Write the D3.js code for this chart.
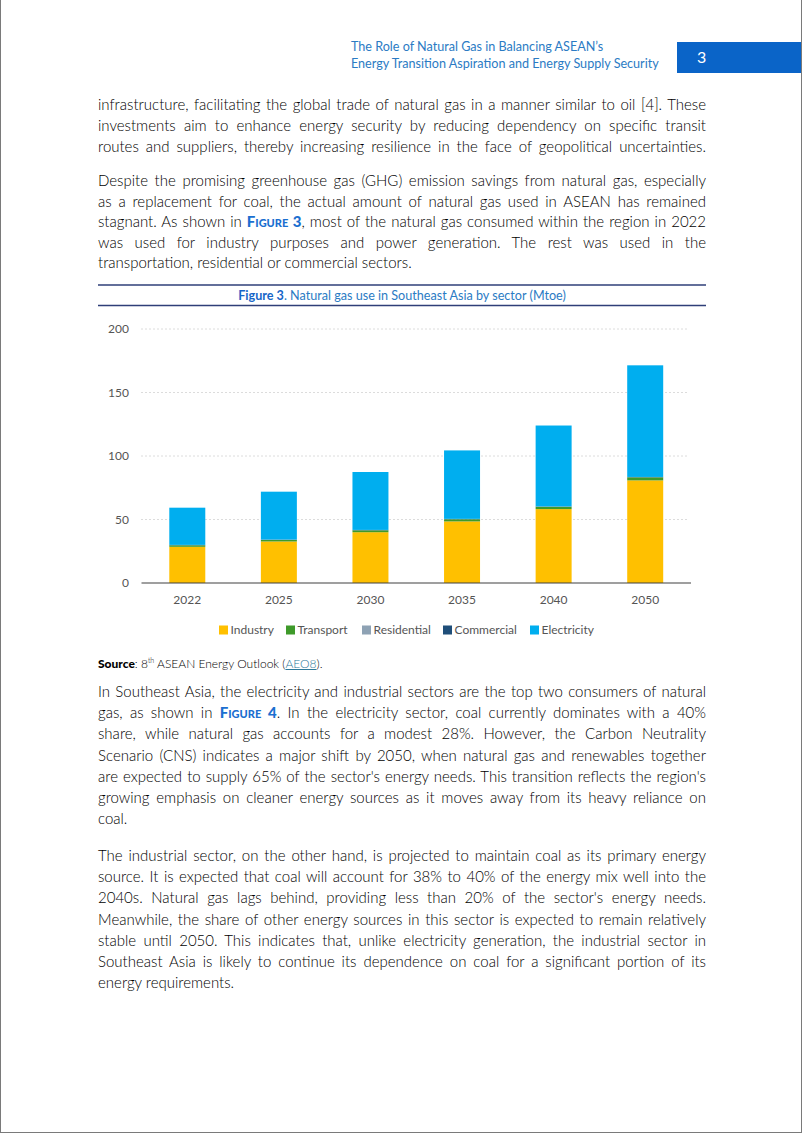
<!DOCTYPE html>
<html><head><meta charset="utf-8">
<script src="https://cdn.jsdelivr.net/npm/d3@7"></script>
<style>
html,body{margin:0;padding:0;background:#fff;}
#page{position:relative;width:802px;height:1133px;overflow:hidden;box-sizing:border-box;border:1px solid #7a7a7a;border-top:none;font-family:Lato,"Noto Sans",sans-serif;color:#222;}
.hdr{position:absolute;left:350px;top:38px;font-size:12.6px;line-height:17px;color:#2b7bc4;font-family:Lato,sans-serif;font-weight:400;}
.pg{position:absolute;left:676px;top:42px;width:130px;height:31px;background:#0a64c8;color:#fff;font-size:16px;font-weight:400;}
.pg span{position:absolute;left:20px;top:5px;}
.para{position:absolute;left:97px;width:608px;font-size:15px;line-height:21.2px;color:#000;font-weight:300;}
.para div{text-align:justify;text-align-last:justify;white-space:nowrap;}
.para div.last{text-align-last:left;}
.fig{color:#1b6fd0;font-weight:900;font-variant:small-caps;}
.src{position:absolute;left:97px;top:656px;font-size:12px;color:#000;font-weight:300;}
.src b{font-weight:900;}
.src a{color:#2d7a9a;text-decoration:underline;}
</style></head>
<body>
<div id="page">
  <div class="hdr">The Role of Natural Gas in Balancing ASEAN’s<br>Energy Transition Aspiration and Energy Supply Security</div>
  <div class="pg"><span>3</span></div>
  <div class="para" style="top:94px">
    <div>infrastructure, facilitating the global trade of natural gas in a manner similar to oil [4]. These</div>
    <div>investments aim to enhance energy security by reducing dependency on specific transit</div>
    <div>routes and suppliers, thereby increasing resilience in the face of geopolitical uncertainties.</div>
  </div>
  <div class="para" style="top:170px;line-height:20.6px">
    <div>Despite the promising greenhouse gas (GHG) emission savings from natural gas, especially</div>
    <div>as a replacement for coal, the actual amount of natural gas used in ASEAN has remained</div>
    <div>stagnant. As shown in <span class="fig">Figure 3</span>, most of the natural gas consumed within the region in 2022</div>
    <div>was used for industry purposes and power generation. The rest was used in the</div>
    <div class="last">transportation, residential or commercial sectors.</div>
  </div>
  <svg id="chart" width="802" height="660" style="position:absolute;left:0;top:0"></svg>
  <div class="src"><b>Source</b>: 8<sup style="font-size:7px">th</sup> ASEAN Energy Outlook (<a>AEO8</a>).</div>
  <div class="para" style="top:681px">
    <div>In Southeast Asia, the electricity and industrial sectors are the top two consumers of natural</div>
    <div>gas, as shown in <span class="fig">Figure 4</span>. In the electricity sector, coal currently dominates with a 40%</div>
    <div>share, while natural gas accounts for a modest 28%. However, the Carbon Neutrality</div>
    <div>Scenario (CNS) indicates a major shift by 2050, when natural gas and renewables together</div>
    <div>are expected to supply 65% of the sector's energy needs. This transition reflects the region's</div>
    <div>growing emphasis on cleaner energy sources as it moves away from its heavy reliance on</div>
    <div class="last">coal.</div>
  </div>
  <div class="para" style="top:845px">
    <div>The industrial sector, on the other hand, is projected to maintain coal as its primary energy</div>
    <div>source. It is expected that coal will account for 38% to 40% of the energy mix well into the</div>
    <div>2040s. Natural gas lags behind, providing less than 20% of the sector's energy needs.</div>
    <div>Meanwhile, the share of other energy sources in this sector is expected to remain relatively</div>
    <div>stable until 2050. This indicates that, unlike electricity generation, the industrial sector in</div>
    <div>Southeast Asia is likely to continue its dependence on coal for a significant portion of its</div>
    <div class="last">energy requirements.</div>
  </div>
</div>
<script>
const years = ["2022","2025","2030","2035","2040","2050"];
const industry    = [28.5, 32.7, 40.0, 48.5, 58.2, 80.8];
const transport   = [1.2, 1.2, 1.5, 1.7, 1.8, 2.4];
const residential = [0.1, 0.1, 0.1, 0.1, 0.1, 0.1];
const commercial  = [0.2, 0.2, 0.2, 0.2, 0.2, 0.2];
const electricity = [29.3, 37.7, 45.6, 53.9, 63.7, 87.9];
const seriesNames = ["Industry","Transport","Residential","Commercial","Electricity"];
const seriesColors = ["#FFC000","#3E9A2A","#8EA2B4","#1F4E79","#00AEEF"];
const yTicks = [0,50,100,150,200];

const rows = years.map((y,i)=>({year:y, Industry:industry[i], Transport:transport[i], Residential:residential[i], Commercial:commercial[i], Electricity:electricity[i]}));
const stack = d3.stack().keys(seriesNames)(rows);

const FONT = "Lato, 'Noto Sans', sans-serif";
const LABEL = "#555";
const svg = d3.select("#chart");
// figure title rules
svg.append("line").attr("x1",97).attr("x2",705).attr("y1",285).attr("y2",285).attr("stroke","#2f3f78").attr("stroke-width",1.3);
svg.append("line").attr("x1",97).attr("x2",705).attr("y1",305.5).attr("y2",305.5).attr("stroke","#2f3f78").attr("stroke-width",1.3);
const t = svg.append("text").attr("x",401).attr("y",299.5).attr("text-anchor","middle")
  .attr("font-family",FONT).attr("font-weight",400).attr("font-size",12.6).attr("fill","#2b7bc4");
t.append("tspan").attr("font-weight",700).attr("fill","#1766c8").text("Figure 3");
t.append("tspan").text(". Natural gas use in Southeast Asia by sector (Mtoe)");

const x = d3.scaleBand().domain(years).range([140.5,690]).paddingInner(0.607).paddingOuter(0.3035);
const y = d3.scaleLinear().domain([0,200]).range([583,329]);

const g = svg.append("g");
// gridlines
g.append("g").selectAll("line").data(yTicks.filter(d=>d>0)).join("line")
  .attr("x1",140).attr("x2",686).attr("y1",d=>y(d)).attr("y2",d=>y(d))
  .attr("stroke","#dcdcdc").attr("stroke-width",1).attr("stroke-dasharray","2,2");

// y axis labels
const yAxis = d3.axisLeft(y).tickValues(yTicks).tickSize(0).tickPadding(0);
const ya = g.append("g").attr("transform","translate(128,0)").call(yAxis);
ya.select(".domain").remove();
ya.selectAll("text").attr("font-family",FONT).attr("font-size",12).attr("fill",LABEL);

// bars
g.append("g").selectAll("g").data(stack).join("g")
  .attr("fill",(d,i)=>seriesColors[i])
  .selectAll("rect").data(d=>d).join("rect")
  .attr("x",d=>x(d.data.year)).attr("width",x.bandwidth())
  .attr("y",d=>y(d[1])).attr("height",d=>y(d[0])-y(d[1]));

// baseline
g.append("line").attr("x1",140.5).attr("x2",690).attr("y1",583).attr("y2",583).attr("stroke","#404040").attr("stroke-width",1.2);

// x axis labels
const xAxis = d3.axisBottom(x).tickSize(0).tickPadding(12);
const xa = g.append("g").attr("transform","translate(0,583)").call(xAxis);
xa.select(".domain").remove();
xa.selectAll("text").attr("font-family",FONT).attr("font-size",12).attr("fill",LABEL);

// legend
const legX = [218, 285, 361, 442, 529];
const leg = g.append("g").selectAll("g").data(seriesNames).join("g")
  .attr("transform",(d,i)=>`translate(${legX[i]},630)`);
leg.append("rect").attr("x",0).attr("y",-4.5).attr("width",9).attr("height",9).attr("fill",(d,i)=>seriesColors[i]);
leg.append("text").attr("x",11.5).attr("y",4.3).text(d=>d)
  .attr("font-family",FONT).attr("font-size",12).attr("fill",LABEL);
</script>
</body></html>
